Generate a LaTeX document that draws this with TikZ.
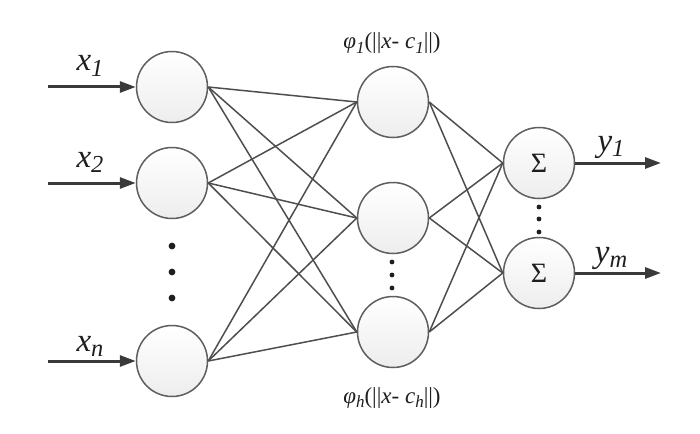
\documentclass[tikz,border=0pt]{standalone}
\usepackage{graphicx}
\usepackage{fontspec}
\setmainfont{Liberation Serif}
\usetikzlibrary{arrows.meta}
\newcommand\mysub[1]{\raisebox{-0.18em}{\scalebox{0.74}{\itshape #1}}}
\definecolor{ringgray}{HTML}{5E5E5E}
\definecolor{linegray}{HTML}{4E4E4E}
\definecolor{arrowgray}{HTML}{3A3A3A}
\definecolor{txtgray}{HTML}{1E1E1E}
\begin{document}
\begin{tikzpicture}[x=1pt,y=-1pt,
  neuron/.style={circle,draw=ringgray,line width=1.5pt,minimum size=71pt,inner sep=0pt,
    top color=white,bottom color=black!7,text=txtgray,font=\fontsize{28}{30}\selectfont},
  link/.style={draw=linegray,line width=1.5pt},
  inarrow/.style={draw=arrowgray,line width=3pt,-{Triangle[length=16pt,width=11pt]}},
  biglabel/.style={anchor=base,text=txtgray,font=\fontsize{33}{35}\selectfont},
  phlabel/.style={anchor=base,text=txtgray,font=\fontsize{23}{25}\selectfont},
  dot/.style={fill=txtgray}]
\useasboundingbox (0,0) rectangle (700,433);
% input layer
\node[neuron] (in1) at (172,87) {};
\node[neuron] (in2) at (172,183) {};
\node[neuron] (inn) at (172,361) {};
% hidden layer
\node[neuron] (h1) at (393,102) {};
\node[neuron] (h2) at (393,218) {};
\node[neuron] (hh) at (393,332) {};
% output layer
\node[neuron] (o1) at (539,163) {Σ};
\node[neuron] (om) at (539,273) {Σ};
% input arrows
\coordinate (s1) at (48,87);
\coordinate (s2) at (48,183);
\coordinate (sn) at (48,361);
\draw[inarrow] (s1) -- (in1.west);
\draw[inarrow] (s2) -- (in2.west);
\draw[inarrow] (sn) -- (inn.west);
% output arrows
\coordinate (e1) at (661,163);
\coordinate (em) at (661,273);
\draw[inarrow] (o1.east) -- (e1);
\draw[inarrow] (om.east) -- (em);
% connections input -> hidden
\foreach \i in {in1,in2,inn}{
  \foreach \h in {h1,h2,hh}{
    \draw[link] (\i.east) -- (\h.west);
  }
}
% connections hidden -> output
\foreach \h in {h1,h2,hh}{
  \foreach \o in {o1,om}{
    \draw[link] (\h.east) -- (\o.west);
  }
}
% dots
\foreach \y in {246,272,298} \fill[dot] (172,\y) circle (3.4pt);
\foreach \y in {262,275,288} \fill[dot] (392,\y) circle (2.4pt);
\foreach \y in {207,219,232} \fill[dot] (539,\y) circle (2.4pt);
% labels
\node[biglabel] (lx1) at (90,71) {{\itshape x}\mysub{1}};
\node[biglabel] (lx2) at (90,167) {{\itshape x}\mysub{2}};
\node[biglabel] (lxn) at (90,351) {{\itshape x}\mysub{n}};
\node[biglabel] (ly1) at (611,151) {{\itshape y}\mysub{1}};
\node[biglabel] (lym) at (611,262) {{\itshape y}\mysub{m}};
\node[phlabel] (lp1) at (392,49) {{\itshape φ}\mysub{1}(||{\itshape x}- {\itshape c}\mysub{1}||)};
\node[phlabel] (lph) at (392,403) {{\itshape φ}\mysub{h}(||{\itshape x}- {\itshape c}\mysub{h}||)};
\end{tikzpicture}
\end{document}
